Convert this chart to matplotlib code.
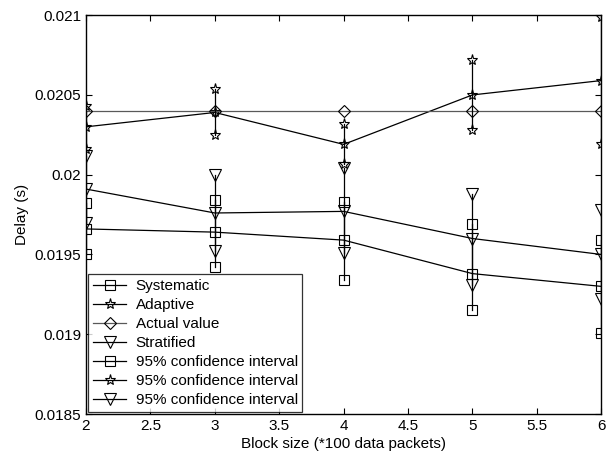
import matplotlib
matplotlib.use("Agg")
import matplotlib.pyplot as plt
import numpy as np

plt.rcParams['font.family'] = ['Liberation Sans', 'DejaVu Sans']

block = [2, 3, 4, 5, 6]

systematic = [0.01966, 0.01964, 0.01959, 0.01938, 0.01930]
sys_hi = [0.01982, 0.01984, 0.01983, 0.01969, 0.01959]
sys_lo = [0.01950, 0.01942, 0.01934, 0.01915, 0.01901]

adaptive = [0.02030, 0.02039, 0.02019, 0.02050, 0.02059]
ada_hi = [0.02043, 0.02054, 0.02032, 0.02072, 0.02099]
ada_lo = [0.02016, 0.02025, 0.02007, 0.02028, 0.02019]

actual = [0.0204, 0.0204, 0.0204, 0.0204, 0.0204]

stratified = [0.01991, 0.01976, 0.01977, 0.01960, 0.01950]
str_hi = [0.02012, 0.02000, 0.02004, 0.01988, 0.01978]
str_lo = [0.01970, 0.01952, 0.01951, 0.01931, 0.01922]

yticks = [0.0185, 0.019, 0.0195, 0.02, 0.0205, 0.021]
ytick_labels = ["0.0185", "0.019", "0.0195", "0.02", "0.0205", "0.021"]
xticks = [2, 2.5, 3, 3.5, 4, 4.5, 5, 5.5, 6]
xtick_labels = ["2", "2.5", "3", "3.5", "4", "4.5", "5", "5.5", "6"]

fig = plt.figure(figsize=(6.12, 4.59), dpi=100)
ax = fig.add_axes([0.1405, 0.098, 0.842, 0.869])

mk = dict(color='black', mfc='none', mec='black', mew=0.8, lw=0.9)

ax.plot(block, systematic, marker='s', ms=7, label='Systematic', **mk)
ax.plot(block, adaptive, marker='*', ms=8, label='Adaptive', **mk)
ax.plot(block, actual, marker='D', ms=6, label='Actual value',
        color='0.35', mfc='none', mec='black', mew=0.8, lw=0.9)
ax.plot(block, stratified, marker='v', ms=8, label='Stratified', **mk)

def ci(lo, hi, marker, ms):
    for i, x in enumerate(block):
        ax.plot([x, x], [lo[i], hi[i]], marker=marker, ms=ms,
                label='95% confidence interval' if i == 0 else None, **mk)

ci(sys_lo, sys_hi, 's', 7)
ci(ada_lo, ada_hi, '*', 8)
ci(str_lo, str_hi, 'v', 8)

ax.set_xlim(2, 6)
ax.set_ylim(0.0185, 0.021)
ax.set_xticks(xticks)
ax.set_xticklabels(xtick_labels)
ax.set_yticks(yticks)
ax.set_yticklabels(ytick_labels)
ax.tick_params(direction='in', top=True, right=True, labelsize=11, length=4, width=0.8)
for s in ax.spines.values():
    s.set_linewidth(1.0)

ax.set_xlabel('Block size (*100 data packets)', fontsize=11, labelpad=3)
ax.set_ylabel('Delay (s)', fontsize=11)

leg = ax.legend(loc='lower left', fontsize=11, frameon=True, fancybox=False,
                edgecolor='black', borderpad=0.3, labelspacing=0.33,
                handlelength=2.2, handletextpad=0.6, borderaxespad=0.15)
leg.get_frame().set_linewidth(0.9)

fig.savefig('out.png', dpi=100)
